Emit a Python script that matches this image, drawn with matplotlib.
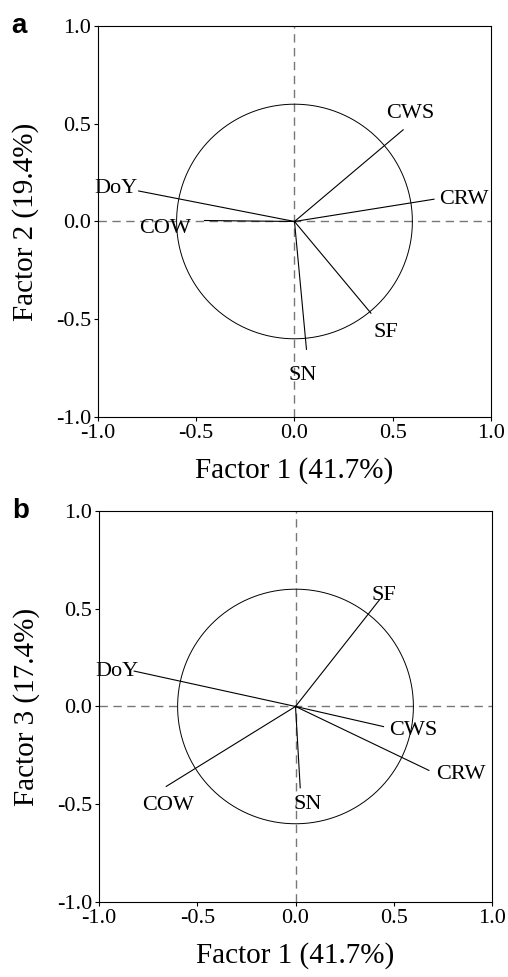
import matplotlib.pyplot as plt
import numpy as np

# loadings
variables = ['CWS', 'CRW', 'DoY', 'COW', 'SF', 'SN']
f1 = [0.553, 0.710, -0.793, -0.458, 0.389, 0.061]
f2 = [0.469, 0.114, 0.156, 0.005, -0.469, -0.654]

variables_b = ['SF', 'DoY', 'CWS', 'CRW', 'COW', 'SN']
f1_b = [0.427, -0.821, 0.448, 0.679, -0.658, 0.024]
f3_b = [0.545, 0.181, -0.103, -0.327, -0.409, -0.416]

ticks = [-1.0, -0.5, 0.0, 0.5, 1.0]
circle_r = 0.6

plt.rcParams['font.family'] = ['Liberation Serif', 'DejaVu Serif']

# label placement: (dx, dy in points, ha, va)
place_a = {
    'CWS': (-12, 5, 'left', 'bottom'),
    'CRW': (4, 0, 'left', 'center'),
    'DoY': (-1, 2, 'right', 'center'),
    'COW': (-10, -6, 'right', 'center'),
    'SF': (2, -7, 'left', 'top'),
    'SN': (-13, -12, 'left', 'top'),
}
place_b = {
    'SF': (-6, -4, 'left', 'bottom'),
    'DoY': (3, 0, 'right', 'center'),
    'CWS': (4, -3, 'left', 'center'),
    'CRW': (5, -3, 'left', 'center'),
    'COW': (1, -7, 'center', 'top'),
    'SN': (-5, -5, 'left', 'top'),
}


def draw_panel(ax, names, xs, ys, place, ylabel, letter):
    ax.set_xlim(-1, 1)
    ax.set_ylim(-1, 1)
    ax.axhline(0, color='#777777', lw=1.0, ls=(0, (6, 4)), zorder=1)
    ax.axvline(0, color='#777777', lw=1.0, ls=(0, (6, 4)), zorder=1)
    t = np.linspace(0, 2 * np.pi, 400)
    ax.plot(circle_r * np.cos(t), circle_r * np.sin(t), color='black', lw=0.7)
    for n, x, y in zip(names, xs, ys):
        ax.plot([0, x], [0, y], color='black', lw=0.8)
        dx, dy, ha, va = place[n]
        ax.annotate(n, (x, y), xytext=(dx, dy), textcoords='offset points',
                    ha=ha, va=va, fontsize=16)
    ax.set_xticks(ticks)
    ax.set_yticks(ticks)
    ax.set_xticklabels(['%.1f' % v for v in ticks])
    ax.set_yticklabels(['%.1f' % v for v in ticks])
    ax.tick_params(direction='out', length=3, width=0.8, labelsize=16, pad=2)
    for s in ax.spines.values():
        s.set_linewidth(0.8)
    ax.set_xlabel('Factor 1 (41.7%)', fontsize=21, labelpad=10)
    ax.set_ylabel(ylabel, fontsize=21, labelpad=12)
    ax.text(-0.22, 1.0, letter, transform=ax.transAxes, fontsize=20,
            fontweight='bold', family='Liberation Sans', ha='left', va='center')


fig = plt.figure(figsize=(5.08, 9.77), dpi=100)
ax1 = fig.add_axes([0.1929, 0.5732, 0.7736, 0.4002])
ax2 = fig.add_axes([0.1949, 0.0768, 0.7736, 0.4002])

draw_panel(ax1, variables, f1, f2, place_a, 'Factor 2 (19.4%)', 'a')
draw_panel(ax2, variables_b, f1_b, f3_b, place_b, 'Factor 3 (17.4%)', 'b')

fig.savefig('out.png', dpi=100)
